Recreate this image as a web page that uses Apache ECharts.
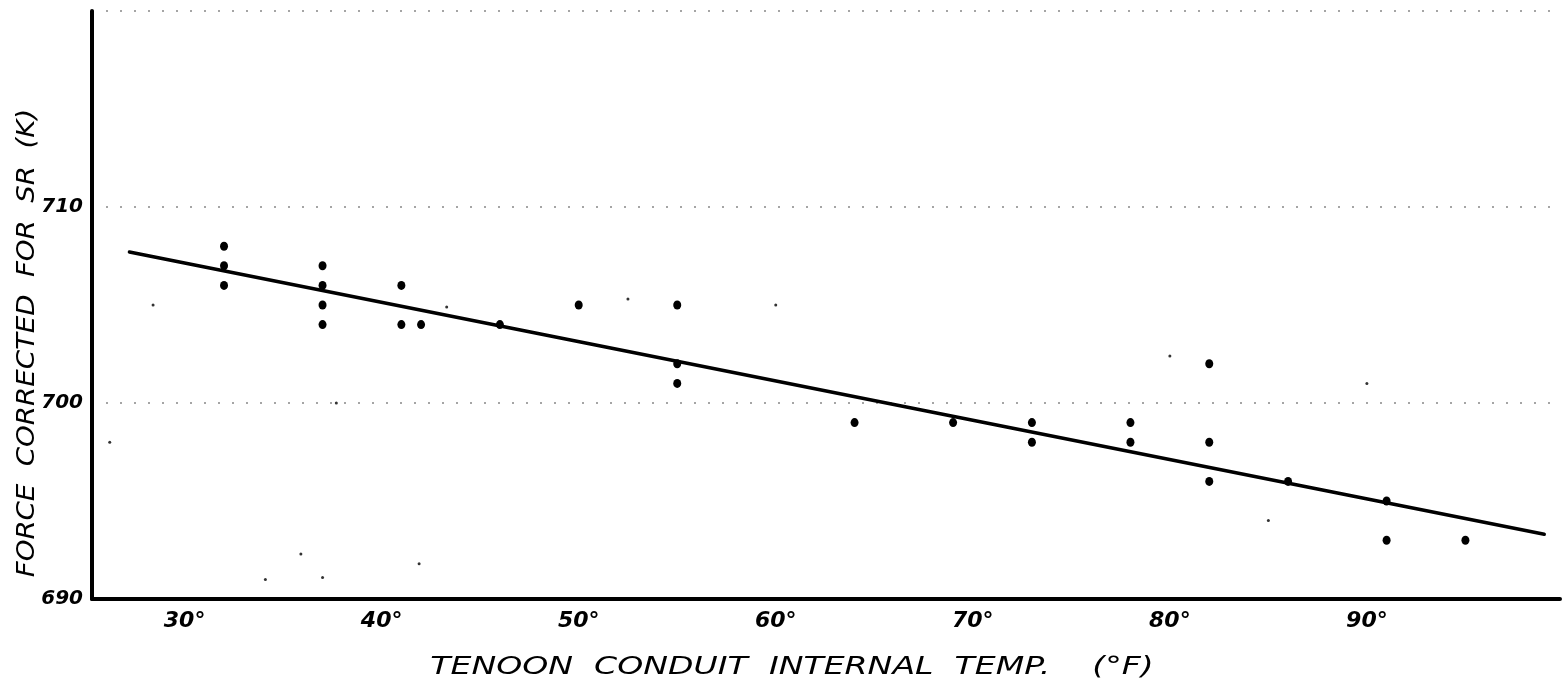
<!DOCTYPE html>
<html>
<head>
<meta charset="utf-8">
<script src="https://cdn.jsdelivr.net/npm/echarts@6/dist/echarts.min.js"></script>
<style>
  html, body { margin: 0; padding: 0; background: #fff; }
  #chart { width: 1562px; height: 684px; }
</style>
</head>
<body>
<div id="chart"></div>
<script>
// measured points: temp (°F) and force (K)
const tempF = [32, 32, 32, 37, 37, 37, 37, 41, 41, 42, 46, 50, 55, 55, 55, 64, 69, 73, 73, 78, 78, 82, 82, 82, 86, 91, 91, 95];
const forceK = [708, 707, 706, 707, 706, 705, 704, 706, 704, 704, 704, 705, 705, 702, 701, 699, 699, 699, 698, 699, 698, 702, 698, 696, 696, 695, 693, 693];

// fitted line end points
const fitTemp = [27.2, 99];
const fitForce = [707.7, 693.3];

// small scan specks
const speckTemp = [43.3, 60, 52.5, 80, 90, 85, 37.7, 35.9, 37, 34.1, 41.9, 28.4, 26.2];
const speckForce = [704.9, 705, 705.3, 702.4, 701, 694, 700, 692.3, 691.1, 691, 691.8, 705, 698];

const xTicks = [30, 40, 50, 60, 70, 80, 90];
const yTicks = [690, 700, 710];

const xTitle = "TENOON  CONDUIT  INTERNAL  TEMP.    (°F)";
const yTitle = "FORCE  CORRECTED  FOR  SR  (K)";

const chart = echarts.init(document.getElementById("chart"));
const font = "DejaVu Sans";

chart.setOption({
  animation: false,
  backgroundColor: "#fff",
  grid: { left: 92, right: 2, top: 11, bottom: 85 },
  xAxis: {
    type: "value",
    min: 25.3,
    max: 99.8,
    axisLine: { show: true, lineStyle: { color: "#000", width: 4 } },
    axisTick: { show: false },
    splitLine: { show: false },
    axisLabel: {
      customValues: xTicks,
      formatter: (v) => v + "°",
      margin: 11,
      color: "#000",
      fontFamily: font,
      fontStyle: "italic",
      fontWeight: "bold",
      fontSize: 22,
    },
  },
  yAxis: {
    type: "value",
    min: 690,
    max: 720,
    interval: 10,
    axisLine: { show: true, lineStyle: { color: "#000", width: 4 } },
    axisTick: { show: false },
    splitLine: { show: true, lineStyle: { color: "#888", width: 1.5, type: [2, 12] } },
    axisLabel: {
      customValues: yTicks,
      margin: 9,
      color: "#000",
      fontFamily: font,
      fontStyle: "italic",
      fontWeight: "bold",
      fontSize: 20,
    },
  },
  graphic: [
    {
      type: "text",
      x: 792,
      y: 668,
      scaleX: 1.38,
      style: {
        text: xTitle,
        fill: "#000",
        font: "italic 24px 'DejaVu Sans'",
        textAlign: "center",
        textVerticalAlign: "middle",
      },
    },
    {
      type: "text",
      x: 28,
      y: 343,
      rotation: Math.PI / 2,
      scaleX: 1.15,
      style: {
        text: yTitle,
        fill: "#000",
        font: "italic 24px 'DejaVu Sans'",
        textAlign: "center",
        textVerticalAlign: "middle",
      },
    },
  ],
  series: [
    {
      type: "line",
      data: fitTemp.map((t, i) => [t, fitForce[i]]),
      symbol: "none",
      lineStyle: { color: "#000", width: 3.5, cap: "round" },
      z: 2,
    },
    {
      type: "scatter",
      data: tempF.map((t, i) => [t, forceK[i]]),
      symbol: "circle",
      symbolSize: [8, 9],
      itemStyle: { color: "#000", opacity: 1 },
      z: 3,
    },
    {
      type: "scatter",
      data: speckTemp.map((t, i) => [t, speckForce[i]]),
      symbol: "circle",
      symbolSize: 3,
      itemStyle: { color: "#333", opacity: 1 },
      z: 1,
    },
  ],
});
</script>
</body>
</html>
